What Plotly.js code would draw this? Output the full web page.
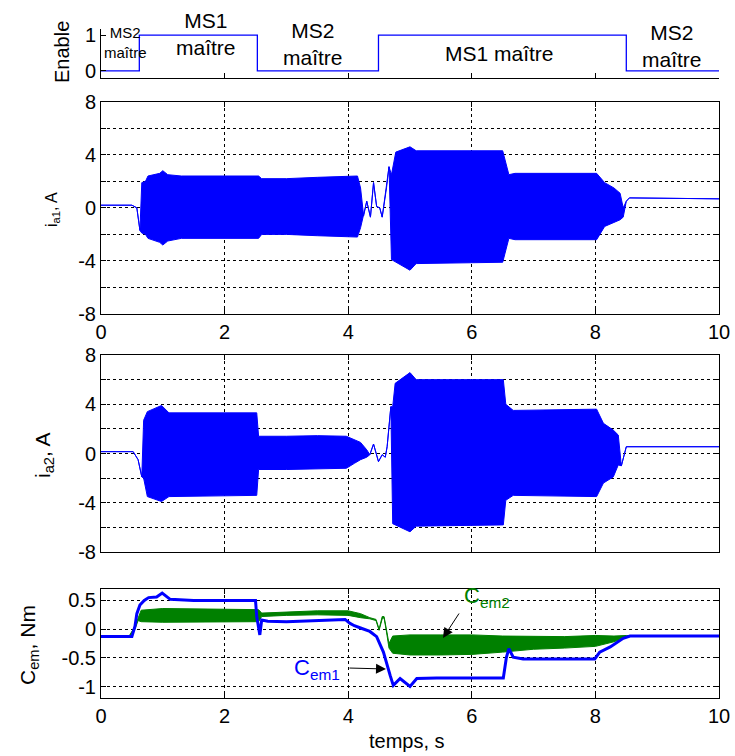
<!DOCTYPE html>
<html>
<head>
<meta charset="utf-8">
<script src="https://cdn.plot.ly/plotly-3.0.1.min.js"></script>
<style>html,body{margin:0;padding:0;background:#fff;}#chart{width:735px;height:756px;}</style>
</head>
<body>
<div id="chart"></div>
<script>
// ---- Enable signal (MS1 master = 1, MS2 master = 0)
const enableT = [0, 0.62, 0.62, 2.53, 2.53, 4.49, 4.49, 8.5, 8.5, 10];
const enableV = [0, 0, 1, 1, 0, 0, 1, 1, 0, 0];
const modeLabels = ["MS2<br>maître", "MS1<br>maître", "MS2<br>maître", "MS1 maître", "MS2<br>maître"];

// ---- i_a1 envelope (A): upper / lower extent of the oscillation
const ia1T  = [0, 0.5, 0.58, 0.63, 0.66, 0.72, 0.76, 0.95, 1.0, 1.08, 1.3, 2.55, 2.6, 3.0, 3.5, 4.15, 4.2, 4.25, 4.3, 4.36, 4.41, 4.46, 4.51, 4.55, 4.62, 4.66, 4.7, 4.77, 5.0, 5.1, 6.5, 6.6, 6.7, 8.02, 8.15, 8.3, 8.4, 8.45, 8.5, 8.55, 10];
const ia1Hi = [0.2, 0.2, 0.0, -1.7, 1.9, 2.0, 2.4, 2.6, 2.8, 2.5, 2.4, 2.4, 2.2, 2.2, 2.3, 2.4, 1.5, -0.6, 0.5, -0.7, 1.9, 0.1, 0.0, -0.7, 1.5, 3.1, 2.5, 4.2, 4.6, 4.3, 4.3, 2.5, 2.6, 2.6, 1.9, 1.5, 1.1, 0.0, 0.5, 0.75, 0.68];
const ia1Lo = [0.2, 0.2, 0.0, -1.7, -1.9, -2.0, -2.3, -2.6, -2.8, -2.5, -2.3, -2.3, -2.0, -2.0, -2.1, -2.2, -1.5, -0.6, 0.5, -0.7, 1.9, 0.1, 0.0, -0.7, 1.5, 3.1, -3.9, -4.1, -4.7, -4.2, -4.1, -2.3, -2.4, -2.4, -1.4, -1.1, -0.9, -0.7, 0.5, 0.75, 0.68];

// ---- i_a2 envelope (A)
const ia2T  = [0, 0.52, 0.6, 0.66, 0.69, 0.75, 0.98, 1.1, 2.52, 2.55, 3.0, 3.5, 3.97, 4.1, 4.2, 4.3, 4.35, 4.41, 4.49, 4.55, 4.6, 4.63, 4.66, 4.69, 4.72, 4.76, 5.0, 5.1, 6.0, 6.51, 6.55, 6.67, 8.02, 8.13, 8.29, 8.37, 8.42, 8.5, 10];
const ia2Hi = [0.15, 0.15, -0.5, -1.9, 2.7, 3.4, 3.9, 3.3, 3.3, 1.4, 1.4, 1.45, 1.4, 1.1, 0.9, 0.3, -0.1, 0.77, -0.66, -0.1, -0.3, 0.55, 2.2, 3.8, 3.8, 5.7, 6.57, 6.0, 6.0, 6.0, 4.0, 3.5, 3.6, 2.45, 1.9, 1.5, -1.0, 0.55, 0.55];
const ia2Lo = [0.15, 0.15, -0.5, -1.9, -2.0, -3.5, -3.9, -3.5, -3.4, -1.3, -1.3, -1.25, -1.2, -0.8, -0.5, -0.3, -0.1, 0.77, -0.66, -0.1, -0.3, 0.55, 2.2, 3.8, -5.7, -5.8, -6.36, -5.9, -5.8, -5.8, -3.8, -3.4, -3.5, -2.4, -1.9, -0.93, -1.0, 0.55, 0.55];

// ---- C_em1 (Nm)
const cem1T = [0, 0.5, 0.55, 0.58, 0.63, 0.7, 0.77, 0.9, 0.99, 1.05, 1.12, 1.5, 2.0, 2.5, 2.52, 2.57, 2.6, 2.7, 3.0, 3.5, 3.95, 4.03, 4.1, 4.2, 4.35, 4.46, 4.57, 4.68, 4.73, 4.84, 5.0, 5.11, 5.43, 6.0, 6.51, 6.56, 6.6, 6.67, 6.83, 7.5, 7.99, 8.07, 8.24, 8.45, 8.56, 10];
const cem1V = [-0.13, -0.13, 0.05, 0.27, 0.42, 0.5, 0.55, 0.56, 0.63, 0.58, 0.52, 0.5, 0.5, 0.5, 0.22, -0.1, 0.16, 0.14, 0.13, 0.15, 0.17, 0.1, 0.06, 0.02, -0.04, -0.13, -0.4, -0.81, -0.98, -0.86, -1.0, -0.86, -0.85, -0.85, -0.85, -0.49, -0.34, -0.49, -0.52, -0.52, -0.52, -0.4, -0.31, -0.16, -0.12, -0.12];

// ---- C_em2 (Nm) envelope
const cem2T  = [0, 0.45, 0.55, 0.6, 0.65, 1.0, 2.5, 2.55, 2.6, 3.0, 3.5, 4.0, 4.2, 4.35, 4.45, 4.5, 4.55, 4.58, 4.62, 4.66, 4.72, 5.0, 5.5, 6.0, 6.5, 7.0, 7.5, 8.0, 8.3, 8.5, 8.6, 10];
const cem2Hi = [-0.13, -0.13, 0.05, 0.2, 0.33, 0.36, 0.35, 0.34, 0.28, 0.3, 0.32, 0.32, 0.27, 0.2, 0.17, 0.0, 0.22, 0.22, 0.0, -0.25, -0.12, -0.1, -0.1, -0.1, -0.12, -0.12, -0.13, -0.11, -0.12, -0.11, -0.12, -0.12];
const cem2Lo = [-0.13, -0.13, 0.0, 0.15, 0.13, 0.12, 0.13, 0.13, 0.22, 0.24, 0.25, 0.24, 0.2, 0.18, 0.15, -0.02, 0.18, 0.2, -0.05, -0.33, -0.42, -0.45, -0.45, -0.44, -0.4, -0.35, -0.33, -0.3, -0.22, -0.14, -0.12, -0.12];

// ---- ticks
const xTicks = [0, 2, 4, 6, 8, 10];
const iTicks = [-8, -6, -4, -2, 0, 2, 4, 6, 8];
const iTickText = ["-8", "", "-4", "", "0", "", "4", "", "8"];
const cTicks = [-1, -0.5, 0, 0.5];
const cTickText = ["-1", "-0.5", "0", "0.5"];

const BLUE = "#0000ff", GREEN = "#008000";
const FONT = "Liberation Sans, Arial, sans-serif";
const W = 735, H = 756;
const px = v => v / W, py = v => 1 - v / H;

function band(t, lo, hi, xa, ya, color, w) {
  return [
    {x: t, y: lo, xaxis: xa, yaxis: ya, type: "scatter", mode: "lines", line: {color: color, width: w}, hoverinfo: "skip", showlegend: false},
    {x: t, y: hi, xaxis: xa, yaxis: ya, type: "scatter", mode: "lines", line: {color: color, width: w}, fill: "tonexty", fillcolor: color, hoverinfo: "skip", showlegend: false}
  ];
}

const traces = [
  {x: enableT, y: enableV, xaxis: "x", yaxis: "y", type: "scatter", mode: "lines", line: {color: BLUE, width: 1.3}, showlegend: false},
  ...band(ia1T, ia1Lo, ia1Hi, "x2", "y2", BLUE, 1),
  ...band(ia2T, ia2Lo, ia2Hi, "x3", "y3", BLUE, 1),
  ...band(cem2T, cem2Lo, cem2Hi, "x4", "y4", GREEN, 1),
  {x: cem1T, y: cem1V, xaxis: "x4", yaxis: "y4", type: "scatter", mode: "lines", line: {color: BLUE, width: 3}, showlegend: false}
];

const xDom = [px(101), px(719)];
const gridAx = {
  showline: true, linecolor: "#000", linewidth: 1, mirror: "ticks",
  ticks: "inside", ticklen: 5, tickcolor: "#000",
  showgrid: true, gridcolor: "#000", gridwidth: 1, griddash: "3px,3px",
  zeroline: false, tickfont: {family: FONT, size: 20, color: "#000"}
};

function xax(anchor, labels) {
  return Object.assign({}, gridAx, {domain: xDom, anchor: anchor, range: [0, 10], tickmode: "array", tickvals: xTicks, showticklabels: labels});
}

const layout = {
  width: W, height: H,
  margin: {l: 0, r: 0, t: 0, b: 0},
  paper_bgcolor: "#fff", plot_bgcolor: "#fff",
  font: {family: FONT, color: "#000"},
  showlegend: false,
  xaxis: {domain: xDom, anchor: "y", range: [0, 10], tickmode: "array", tickvals: xTicks, showticklabels: false,
          showline: true, linecolor: "#000", ticks: "inside", ticklen: 5, tickcolor: "#000", showgrid: false, zeroline: false},
  yaxis: {domain: [py(78.3), py(29)], anchor: "x", range: [-0.21, 1.17], tickmode: "array", tickvals: [0, 1],
          showline: true, linecolor: "#000", ticks: "inside", ticklen: 5, tickcolor: "#000", showgrid: false, zeroline: false,
          tickfont: {family: FONT, size: 20, color: "#000"}},
  xaxis2: xax("y2", true),
  yaxis2: Object.assign({}, gridAx, {domain: [py(314), py(101.7)], anchor: "x2", range: [-8, 8], tickmode: "array", tickvals: iTicks, ticktext: iTickText}),
  xaxis3: xax("y3", false),
  yaxis3: Object.assign({}, gridAx, {domain: [py(552), py(355)], anchor: "x3", range: [-8, 8], tickmode: "array", tickvals: iTicks, ticktext: iTickText}),
  xaxis4: xax("y4", true),
  yaxis4: Object.assign({}, gridAx, {domain: [py(698), py(589)], anchor: "x4", range: [-1.2, 0.7], tickmode: "array", tickvals: cTicks, ticktext: cTickText}),
  annotations: []
};

const A = layout.annotations;
function txt(text, x, y, size, opts) {
  A.push(Object.assign({text: text, x: px(x), y: py(y), xref: "paper", yref: "paper", showarrow: false,
    xanchor: "center", yanchor: "middle", font: {family: FONT, size: size, color: "#000"}}, opts || {}));
}
// mode labels in the Enable panel
txt(modeLabels[0], 125, 43, 15, {align: "center"});
txt(modeLabels[1], 206, 34, 21, {align: "center"});
txt(modeLabels[2], 313, 44, 21, {align: "center"});
txt(modeLabels[3], 499, 53, 21);
txt(modeLabels[4], 672, 46, 21, {align: "center"});
// axis labels
txt("Enable", 62, 52, 20, {textangle: -90});
txt("i<sub>a1</sub>, A", 52, 210, 16, {textangle: -90});
txt("i<sub>a2</sub>, A", 44, 455, 21, {textangle: -90});
txt("C<sub>em</sub>, Nm", 29, 645, 21, {textangle: -90});
txt("temps, s", 407, 741, 20);
// curve labels + arrows
txt("C<sub>em2</sub>", 462, 597, 22, {xanchor: "left", font: {family: FONT, size: 22, color: GREEN}});
txt("C<sub>em1</sub>", 292, 669, 22, {xanchor: "left", font: {family: FONT, size: 22, color: BLUE}});
A.push({x: px(443), y: py(638), xref: "paper", yref: "paper", text: "", showarrow: true, ax: 17, ay: -26,
        arrowhead: 2, arrowsize: 2, arrowwidth: 1, arrowcolor: "#000"});
A.push({x: px(386), y: py(669), xref: "paper", yref: "paper", text: "", showarrow: true, ax: -38, ay: -1,
        arrowhead: 2, arrowsize: 2, arrowwidth: 1, arrowcolor: "#000"});

Plotly.newPlot("chart", traces, layout, {staticPlot: true, displayModeBar: false});
</script>
</body>
</html>
